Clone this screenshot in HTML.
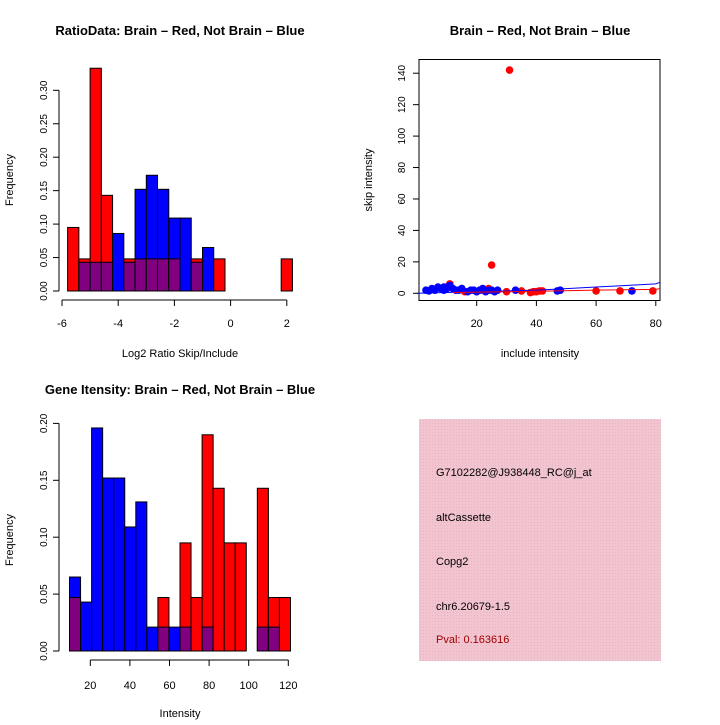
<!DOCTYPE html>
<html><head><meta charset="utf-8"><style>
body{margin:0;background:#fff;}
svg{font-family:"Liberation Sans",sans-serif;}
</style></head><body>
<svg id="c" width="720" height="720" xmlns="http://www.w3.org/2000/svg">
<defs><pattern id="hatch" width="3" height="3" patternUnits="userSpaceOnUse"><rect width="3" height="3" fill="#f2c4d0"/><rect width="1" height="1" fill="#e8b4c4"/></pattern></defs>
<g><text x="180" y="35" text-anchor="middle" font-size="13" font-weight="bold">RatioData: Brain – Red, Not Brain – Blue</text></g>
<text x="540" y="35" text-anchor="middle" font-size="13" font-weight="bold">Brain – Red, Not Brain – Blue</text>
<text x="180" y="394" text-anchor="middle" font-size="13" font-weight="bold">Gene Itensity: Brain – Red, Not Brain – Blue</text>
<text x="180" y="357" text-anchor="middle" font-size="11">Log2 Ratio Skip/Include</text>
<text x="180" y="717" text-anchor="middle" font-size="11">Intensity</text>
<text x="540" y="357" text-anchor="middle" font-size="11">include intensity</text>
<text transform="translate(13,180) rotate(-90)" text-anchor="middle" font-size="11">Frequency</text>
<text transform="translate(13,540) rotate(-90)" text-anchor="middle" font-size="11">Frequency</text>
<text transform="translate(372,180) rotate(-90)" text-anchor="middle" font-size="11">skip intensity</text>
<g>
<rect x="419" y="419" width="242" height="242" fill="url(#hatch)"/>
<text x="436" y="476" font-size="11">G7102282@J938448_RC@j_at</text>
<text x="436" y="521" font-size="11">altCassette</text>
<text x="436" y="565" font-size="11">Copg2</text>
<text x="436" y="610" font-size="11">chr6.20679-1.5</text>
<text x="436" y="643" font-size="11" fill="#a00000">Pval: 0.163616</text>
</g>
<g id="g1"></g><g id="g2"></g><g id="g3"></g>
</svg>
<script>
// Top-left histogram data (bins of log2 ratio, width 0.4 starting at -5.8)
const ratioBinStart=-5.8, ratioBinWidth=0.4;
const ratioRed=[0.095,0.048,0.333,0.143,0,0.048,0.048,0.048,0.048,0.048,0,0.048,0,0.048,0,0,0,0,0,0.048];
const ratioBlue=[0,0.043,0.043,0.043,0.086,0.043,0.152,0.173,0.152,0.109,0.109,0.043,0.065,0,0,0,0,0,0,0];
const ratioXTicks=[-6,-4,-2,0,2];
const ratioYTicks=["0.00","0.05","0.10","0.15","0.20","0.25","0.30"];
// Bottom-left histogram data
const intBinStart=9.5, intBinWidth=5.58;
const intRed=[0.047,0,0,0,0,0,0,0,0.047,0,0.095,0.047,0.190,0.143,0.095,0.095,0,0.143,0.047,0.047];
const intBlue=[0.065,0.043,0.196,0.152,0.152,0.109,0.131,0.021,0.021,0.021,0.021,0,0.021,0,0,0,0,0.021,0.021,0];
const intXTicks=[20,40,60,80,100,120];
const intYTicks=["0.00","0.05","0.10","0.15","0.20"];
// Scatter data
const redX=[31,25,11,15,24,22,30,35,38,39,40,41,42,60,68,79,16,20];
const redY=[142,18,6,3,3,2,1,1.5,0.5,1,1,1.5,1.5,1.5,1.5,1.5,1,1];
const blueX=[3,4,5,6,7,8,9,10,11,12,13,14,15,17,18,19,20,21,22,23,24,25,26,27,33,48,47,72,10,9];
const blueY=[2,1.5,3,2,4,3,2,4,5,3,2,2,3,1,2,2,1,2,3,1,2,2,1,2,2,2,1.5,1.5,3,4];
const blueLineX=[0,10,20,30,40,50,60,70,80,82];
const blueLineY=[0,0.5,1,1.5,2,3,4,5,6,7];
const redLineX=[12,30,45,60,80,82];
const redLineY=[0.5,1,1.5,2,2.5,3];
const scXTicks=[20,40,60,80];
const scYTicks=[0,20,40,60,80,100,120,140];

const NS="http://www.w3.org/2000/svg";
function mk(p,t,a){const e=document.createElementNS(NS,t);for(const k in a)e.setAttribute(k,a[k]);p.appendChild(e);return e;}

function hist(g,red,blue,start,w,xs,ys,yTicks,yStep,xTicks,axY,axX,tickLabY){
  for(let i=0;i<red.length;i++){
    const x0=xs(start+i*w),x1=xs(start+(i+1)*w);
    const r=red[i],b=blue[i];
    const hi=Math.max(r,b),lo=Math.min(r,b);
    if(hi>0){const e=mk(g,'rect',{x:x0,y:ys(hi),width:x1-x0,height:ys(0)-ys(hi),fill:r>=b?'#ff0000':'#0000ff',stroke:'#000','stroke-width':1});
      
      }
    if(lo>0){const e=mk(g,'rect',{x:x0,y:ys(lo),width:x1-x0,height:ys(0)-ys(lo),fill:'#800080',stroke:'#000','stroke-width':1});
      
      }
  }
  const top=ys((yTicks.length-1)*yStep);
  mk(g,'line',{x1:axX,y1:ys(0),x2:axX,y2:top,stroke:'#000'});
  yTicks.forEach((t,i)=>{const y=ys(i*yStep);mk(g,'line',{x1:axX-6,y1:y,x2:axX,y2:y,stroke:'#000'});
    const tx=mk(g,'text',{transform:`translate(${axX-12},${y}) rotate(-90)`,'text-anchor':'middle','font-size':10});tx.textContent=t;
    
    });
  mk(g,'line',{x1:xs(xTicks[0]),y1:axY,x2:xs(xTicks[xTicks.length-1]),y2:axY,stroke:'#000'});
  xTicks.forEach(t=>{const x=xs(t);mk(g,'line',{x1:x,y1:axY,x2:x,y2:axY+6,stroke:'#000'});
    const tx=mk(g,'text',{x:x,y:tickLabY,'text-anchor':'middle','font-size':11});tx.textContent=t;
    
    });
}
const g1=document.getElementById('g1');


hist(g1,ratioRed,ratioBlue,ratioBinStart,ratioBinWidth,v=>62+(v+6)*28.1,v=>291-v*669,ratioYTicks,0.05,ratioXTicks,300,59,327);
const g2=document.getElementById('g2');


hist(g2,intRed,intBlue,intBinStart,intBinWidth,v=>90.3+(v-20)*1.98,v=>651-v*1138,intYTicks,0.05,intXTicks,660,59,689);

const g3=document.getElementById('g3');


const sx=v=>417+v*2.985, sy=v=>293.3-v*1.572;
mk(g3,'rect',{x:419,y:59.5,width:241,height:241,fill:'none',stroke:'#000'});
scYTicks.forEach(t=>{const y=sy(t);mk(g3,'line',{x1:413,y1:y,x2:419,y2:y,stroke:'#000'});
  const tx=mk(g3,'text',{transform:`translate(405,${y}) rotate(-90)`,'text-anchor':'middle','font-size':10});tx.textContent=t;
  
  });
scXTicks.forEach(t=>{const x=sx(t);mk(g3,'line',{x1:x,y1:300.5,x2:x,y2:306,stroke:'#000'});
  const tx=mk(g3,'text',{x:x,y:327,'text-anchor':'middle','font-size':11});tx.textContent=t;
  
  });
redX.forEach((x,i)=>{const c=mk(g3,'circle',{cx:sx(x),cy:sy(redY[i]),r:3.8,fill:'#ff0000'});
  
  });
blueX.forEach((x,i)=>{const c=mk(g3,'circle',{cx:sx(x),cy:sy(blueY[i]),r:3.8,fill:'#0000ff'});
  
  });
function step(xa,ya){let d='';xa.forEach((x,i)=>{d+=(i?'L':'M')+Math.min(sx(x),660)+' '+sy(ya[i]);});return d;}
const bl=mk(g3,'path',{d:step(blueLineX,blueLineY),fill:'none',stroke:'#0000ff'});


const rl=mk(g3,'path',{d:step(redLineX,redLineY),fill:'none',stroke:'#ff0000'});


</script>
</body></html>
